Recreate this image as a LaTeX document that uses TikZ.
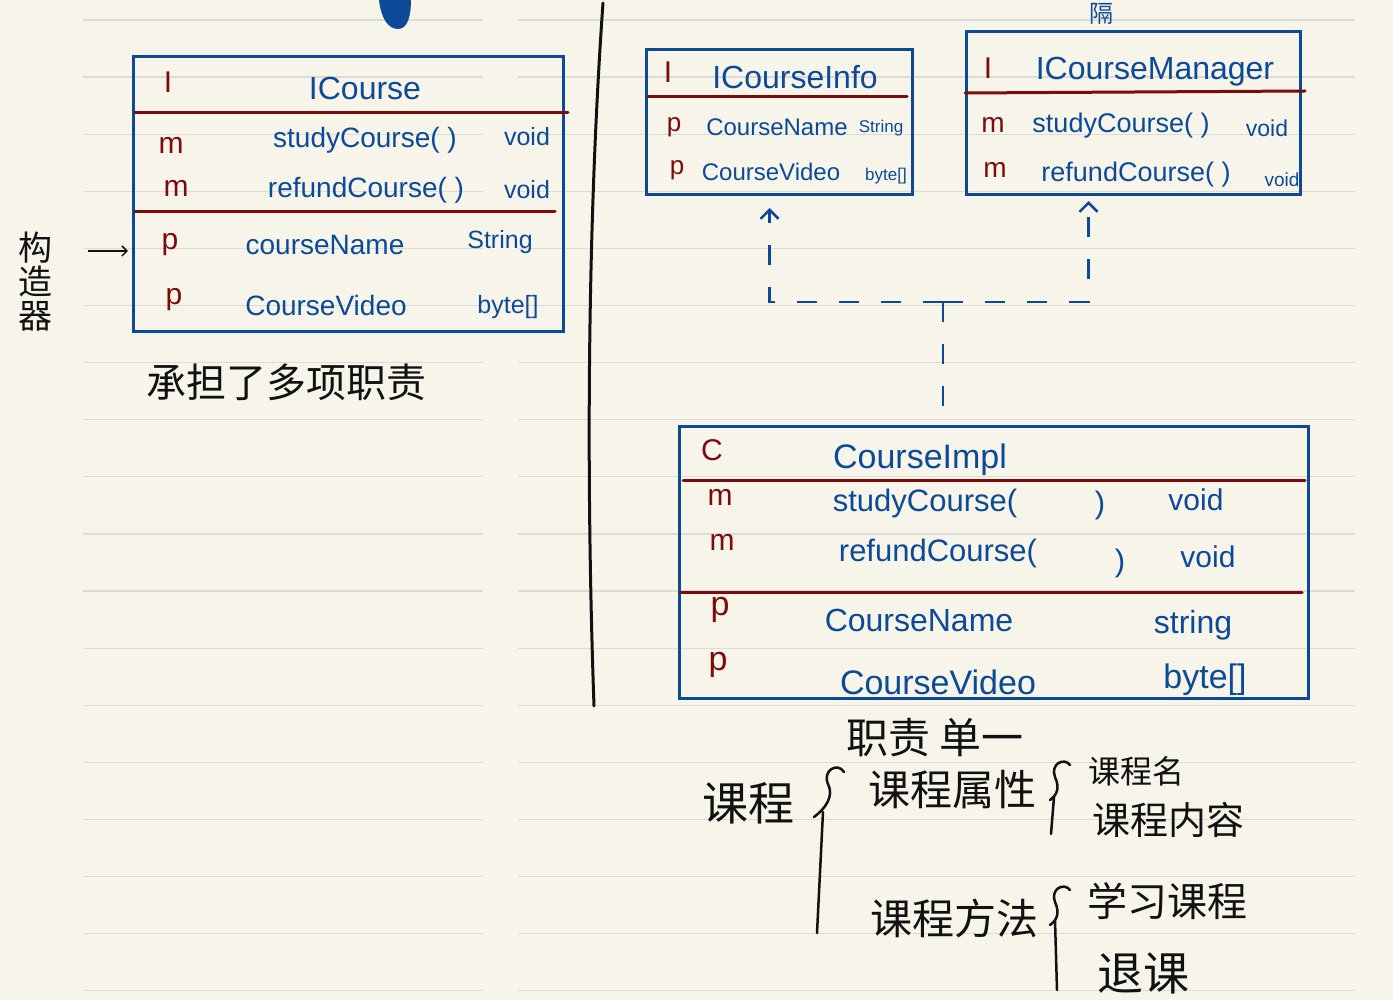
\documentclass[tikz,border=0pt]{standalone}
\usepackage{fontspec}
\setmainfont{Liberation Sans}
\newfontfamily\cjk{Noto Sans CJK SC}
\usepackage{tikz}
\usetikzlibrary{arrows.meta,positioning}
\definecolor{paper}{HTML}{F7F5EA}
\definecolor{ruleline}{HTML}{DCDCD6}
\definecolor{penblue}{HTML}{0C4A98}
\definecolor{penred}{HTML}{7E0B0B}
\definecolor{ink}{HTML}{111111}
\newcommand{\fs}[1]{\fontsize{#1}{#1}\selectfont}

\begin{document}
\begin{tikzpicture}[x=1pt,y=-1pt,
  umlbox/.style={draw=penblue,line width=3pt,inner sep=0pt,anchor=north west},
  sep/.style={draw=penred,line width=3pt,line cap=round},
  kind/.style={text=penred,font=\fs{30}},
  title/.style={text=penblue,font=\fs{32}},
  member/.style={text=penblue,font=\fs{28}},
  type/.style={text=penblue,font=\fs{25}},
  note/.style={text=ink,font=\cjk\fs{40}},
  dep/.style={draw=penblue,line width=2.5pt,dash pattern=on 20pt off 22pt},
  hand/.style={draw=ink,line width=2.5pt,line cap=round}
]
% paper
\fill[paper] (0,0) rectangle (1393,1000);
\useasboundingbox (0,0) rectangle (1393,1000);
\foreach \k in {0,...,17}{
  \draw[ruleline,line width=1.2pt] (83,{20+57.1*\k}) -- (483,{20+57.1*\k});
  \draw[ruleline,line width=1.2pt] (518,{20+57.1*\k}) -- (1355,{20+57.1*\k});
}
\fill[penblue] (379,0) .. controls (381,18) and (388,29) .. (398,29)
  .. controls (408,29) and (411,15) .. (411,0) -- cycle;
\node[text=penblue,font=\cjk\fs{24},inner sep=0pt] (peek) at (1101,14) {隔};
\draw[ink,line width=3pt,line cap=round] (603,3) .. controls (589,200) and (585,450) .. (594,706);

% ICourse
\node[umlbox,minimum width=430pt,minimum height=275pt] (icourse) at (132,55) {};
\draw[sep] (135,113) -- (568,113);
\draw[sep] (135,212) -- (555,212);
\node[kind] (icK) at (168,82) {I};
\node[title] (icN) at (365,88) {ICourse};
\node[kind] (icM1) at (171,145) {m};
\node[member] (icS1) at (365,140) {studyCourse( )};
\node[type] (icT1) at (527,137) {void};
\node[kind] (icM2) at (176,188) {m};
\node[member] (icS2) at (366,190) {refundCourse( )};
\node[type] (icT2) at (527,190) {void};
\node[kind] (icP1) at (170,245) {p};
\node[member] (icS3) at (325,245) {courseName};
\node[type] (icT3) at (500,242) {String};
\node[kind] (icP2) at (174,300) {p};
\node[member] (icS4) at (326,305) {CourseVideo};
\node[type] (icT4) at (508,307) {byte[]};
\node[note,align=center,font=\cjk\fs{34}] (ctor) at (36,282) {构\\造\\器};
\coordinate (ptr) at (88,251);
\draw[ink,line width=1.5pt,-{Straight Barb[length=5pt,width=10pt]},shorten >=4pt]
  (ptr) -- (ptr -| icourse.west);
\node[note] (many) at (286,382) {承担了多项职责};

% ICourseInfo
\node[umlbox,minimum width=266pt,minimum height=145pt] (info) at (645,48) {};
\draw[sep] (648,97) -- (907,97);
\node[kind] (inK) at (668,72) {I};
\node[title] (inN) at (795,77) {ICourseInfo};
\node[kind,font=\fs{26}] (inP1) at (674,127) {p};
\node[member,font=\fs{24}] (inS1) at (777,127) {CourseName};
\node[type,font=\fs{17}] (inT1) at (881,128) {String};
\node[kind,font=\fs{26}] (inP2) at (677,170) {p};
\node[member,font=\fs{24}] (inS2) at (771,172) {CourseVideo};
\node[type,font=\fs{17}] (inT2) at (886,176) {byte[]};

% ICourseManager
\node[umlbox,minimum width=334pt,minimum height=163pt] (mgr) at (965,30) {};
\draw[sep] (965,93) -- (1305,91);
\node[kind] (mgK) at (988,68) {I};
\node[title] (mgN) at (1155,72) {ICourseManager};
\node[kind,font=\fs{28}] (mgM1) at (993,125) {m};
\node[member,font=\fs{27}] (mgS1) at (1121,126) {studyCourse( )};
\node[type,font=\fs{23}] (mgT1) at (1267,128) {void};
\node[kind,font=\fs{28}] (mgM2) at (995,170) {m};
\node[member,font=\fs{27}] (mgS2) at (1136,175) {refundCourse( )};
\node[type,font=\fs{19}] (mgT2) at (1282,180) {void};

% CourseImpl
\node[umlbox,minimum width=629pt,minimum height=272pt] (impl) at (678,425) {};
\draw[sep] (683,480) -- (1305,480);
\draw[sep] (680,592) -- (1302,592);
\node[kind] (imK) at (712,450) {C};
\node[title,font=\fs{34}] (imN) at (920,460) {CourseImpl};
\node[kind] (imM1) at (720,497) {m};
\node[member,font=\fs{31}] (imS1) at (925,503) {studyCourse(};
\node[member,font=\fs{31}] (imC1) at (1100,505) {)};
\node[type,font=\fs{30}] (imT1) at (1196,500) {void};
\node[kind] (imM2) at (722,542) {m};
\node[member,font=\fs{31}] (imS2) at (938,553) {refundCourse(};
\node[member,font=\fs{31}] (imC2) at (1120,563) {)};
\node[type,font=\fs{30}] (imT2) at (1208,557) {void};
\node[kind,font=\fs{34}] (imP1) at (720,610) {p};
\node[member,font=\fs{32}] (imS3) at (919,620) {CourseName};
\node[type,font=\fs{32}] (imT3) at (1193,625) {string};
\node[kind,font=\fs{34}] (imP2) at (718,665) {p};
\node[member,font=\fs{34}] (imS4) at (938,682) {CourseVideo};
\node[type,font=\fs{34}] (imT4) at (1205,680) {byte[]};

% realisation
\coordinate (split) at (943,302);
\draw[dep] (split) -- (split |- impl.north);
\draw[dep,-{Straight Barb[length=9pt,width=18pt]},shorten >=12pt]
  (split) -| ([xshift=-10pt]info.south);
\draw[dep,-{Straight Barb[length=9pt,width=18pt]},shorten >=5pt]
  (split) -| ([xshift=-45pt]mgr.south);

% single responsibility
\node[note,font=\cjk\fs{42}] (single) at (935,738) {职责 单一};
\node[note,font=\cjk\fs{46}] (course) at (748,803) {课程};
\node[note,font=\cjk\fs{42}] (attr) at (952,790) {课程属性};
\node[note,font=\cjk\fs{42}] (meth) at (954,918) {课程方法};
\node[note,font=\cjk\fs{32}] (aName) at (1136,771) {课程名};
\node[note,font=\cjk\fs{38}] (aBody) at (1168,820) {课程内容};
\node[note,font=\cjk\fs{40}] (mStudy) at (1167,901) {学习课程};
\node[note,font=\cjk\fs{46}] (mQuit) at (1143,973) {退课};
\draw[hand] (844,772) .. controls (838,762) and (822,770) .. (828,784)
  .. controls (834,796) and (826,808) .. (814,817);
\draw[hand] (823,812) -- (817,933);
\draw[hand] (1070,765) .. controls (1064,757) and (1050,764) .. (1055,777)
  .. controls (1060,788) and (1057,795) .. (1050,800);
\draw[hand] (1054,797) -- (1051,834);
\draw[hand] (1070,890) .. controls (1064,882) and (1050,889) .. (1055,902)
  .. controls (1060,913) and (1057,920) .. (1050,925);
\draw[hand] (1055,920) -- (1057,990);
\end{tikzpicture}
\end{document}
